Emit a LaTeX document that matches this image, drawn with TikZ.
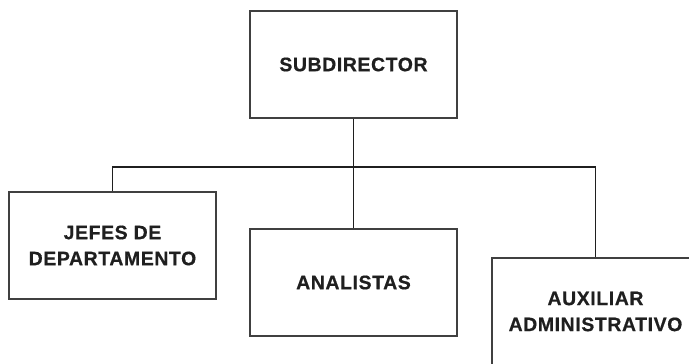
\documentclass[tikz,border=0pt]{standalone}
\usepackage{fontspec}
\setmainfont{Liberation Sans}[LetterSpace=3, BoldFont={Liberation Sans Bold},
  BoldFeatures={FakeBold=0.6}]
\usepackage{tikz}
\tikzset{
  x=0.75pt, y=-0.75pt,
  cargo/.style={draw=black!75, line width=0.8pt, minimum width=155.25pt,
    minimum height=80.25pt, align=center, text=black!88,
    font=\fontsize{14.6}{19.5}\selectfont\bfseries},
  conn/.style={draw=black!88, line width=1.2pt},
}
\begin{document}
\begin{tikzpicture}
      \useasboundingbox (0,0) rectangle (689,364);
      \clip (0,0) rectangle (689,364);

      \node[cargo] (sub) at (353.5,64.5) {SUBDIRECTOR};
      \node[cargo] (jefes) at (112.5,245.5) {JEFES DE\\DEPARTAMENTO};
      \node[cargo] (anal) at (353.5,282.5) {ANALISTAS};
      \node[cargo] (aux) at (595.5,311.5) {AUXILIAR\\ADMINISTRATIVO};
      \coordinate (bus) at (353.5,167);

      \draw[conn] (sub.south) -- (anal.north);
      \draw[conn] (jefes.north) |- (bus) -| (aux.north);
    \end{tikzpicture}
\end{document}
